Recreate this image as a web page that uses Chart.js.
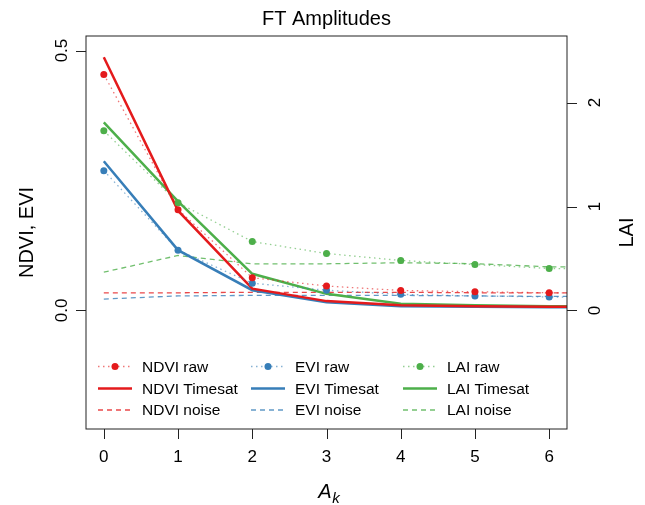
<!DOCTYPE html>
<html>
<head>
<meta charset="utf-8">
<script src="https://cdn.jsdelivr.net/npm/chart.js@4/dist/chart.umd.min.js"></script>
<style>
    html, body { margin: 0; padding: 0; background: #ffffff; }
    #chart { display: block; }
</style>
</head>
<body>
<canvas id="chart" width="645" height="505"></canvas>
<script>
// Harmonic index k (last one falls just outside the plot and gets clipped)
const kValues = [0, 1, 2, 3, 4, 5, 6, 7];

// NDVI / EVI on the left axis
const ndviRaw     = [0.454, 0.194, 0.063, 0.047, 0.0385, 0.036, 0.034, 0.033];
const eviRaw      = [0.269, 0.116, 0.0525, 0.039, 0.031, 0.028, 0.026, 0.025];
const ndviTimesat = [0.487, 0.192, 0.042, 0.018, 0.010, 0.008, 0.007, 0.007];
const eviTimesat  = [0.287, 0.116, 0.039, 0.016, 0.008, 0.007, 0.006, 0.006];
const ndviNoise   = [0.034, 0.034, 0.035, 0.035, 0.035, 0.034, 0.034, 0.034];
const eviNoise    = [0.022, 0.028, 0.029, 0.029, 0.029, 0.028, 0.027, 0.027];

// LAI on the right axis
const laiRaw     = [1.728, 1.036, 0.663, 0.548, 0.481, 0.442, 0.404, 0.400];
const laiTimesat = [1.81, 1.05, 0.353, 0.16, 0.064, 0.05, 0.041, 0.040];
const laiNoise   = [0.368, 0.529, 0.449, 0.449, 0.459, 0.450, 0.420, 0.420];

// Tick positions and labels
const xTicks = [0, 1, 2, 3, 4, 5, 6];
const leftTicks = [0.0, 0.5];
const leftTickLabels = ['0.0', '0.5'];
const rightTicks = [0, 1, 2];
const rightTickLabels = ['0', '1', '2'];

const FONT = '"Liberation Sans", Arial, Helvetica, sans-serif';
const RED = '#E41A1C';
const BLUE = '#377EB8';
const GREEN = '#4DAF4A';

function rgba(hex, a) {
    const n = parseInt(hex.slice(1), 16);
    return `rgba(${(n >> 16) & 255}, ${(n >> 8) & 255}, ${n & 255}, ${a})`;
}

function pts(values) {
    return kValues.map((k, i) => ({ x: k, y: values[i] }));
}

const DOT = [1.5, 3.5];
const DASH = [5, 4];

// Style presets for the three kinds of series
function rawSet(label, values, color, axis) {
    return {
        label, data: pts(values), yAxisID: axis, kind: 'raw', baseColor: color,
        borderColor: rgba(color, 0.6), borderWidth: 1.3, borderDash: DOT,
        pointRadius: 3.5, pointBackgroundColor: color, pointBorderWidth: 0,
        order: 1
    };
}

function timesatSet(label, values, color, axis) {
    return {
        label, data: pts(values), yAxisID: axis, kind: 'timesat', baseColor: color,
        borderColor: color, borderWidth: 2.5, pointRadius: 0, order: 2
    };
}

function noiseSet(label, values, color, axis) {
    return {
        label, data: pts(values), yAxisID: axis, kind: 'noise', baseColor: color,
        borderColor: rgba(color, 0.8), borderWidth: 1.3, borderDash: DASH,
        pointRadius: 0, order: 3
    };
}

const datasets = [
    rawSet('NDVI raw', ndviRaw, RED, 'y'),
    timesatSet('NDVI Timesat', ndviTimesat, RED, 'y'),
    noiseSet('NDVI noise', ndviNoise, RED, 'y'),
    rawSet('EVI raw', eviRaw, BLUE, 'y'),
    timesatSet('EVI Timesat', eviTimesat, BLUE, 'y'),
    noiseSet('EVI noise', eviNoise, BLUE, 'y'),
    rawSet('LAI raw', laiRaw, GREEN, 'y2'),
    timesatSet('LAI Timesat', laiTimesat, GREEN, 'y2'),
    noiseSet('LAI noise', laiNoise, GREEN, 'y2')
];

function rotatedText(ctx, text, x, y) {
    ctx.save();
    ctx.translate(x, y);
    ctx.rotate(-Math.PI / 2);
    ctx.textAlign = 'center';
    ctx.textBaseline = 'alphabetic';
    ctx.fillText(text, 0, 0);
    ctx.restore();
}

// Box, axes, titles and legend in base-graphics style
const framePlugin = {
    id: 'frame',
    afterDraw(chart) {
        const ctx = chart.ctx;
        const area = chart.chartArea;
        const xs = chart.scales.x;
        const ys = chart.scales.y;
        const ys2 = chart.scales.y2;
        const tick = 10;

        ctx.save();
        ctx.strokeStyle = '#222';
        ctx.lineWidth = 1;
        ctx.strokeRect(area.left, area.top, area.right - area.left, area.bottom - area.top);

        ctx.fillStyle = '#000';
        ctx.beginPath();
        xTicks.forEach(v => {
            const px = Math.round(xs.getPixelForValue(v)) + 0.5;
            ctx.moveTo(px, area.bottom);
            ctx.lineTo(px, area.bottom + tick);
        });
        leftTicks.forEach(v => {
            const py = Math.round(ys.getPixelForValue(v)) + 0.5;
            ctx.moveTo(area.left, py);
            ctx.lineTo(area.left - tick, py);
        });
        rightTicks.forEach(v => {
            const py = Math.round(ys2.getPixelForValue(v)) + 0.5;
            ctx.moveTo(area.right, py);
            ctx.lineTo(area.right + tick, py);
        });
        ctx.stroke();

        // Tick labels
        ctx.font = `17px ${FONT}`;
        ctx.textAlign = 'center';
        ctx.textBaseline = 'alphabetic';
        xTicks.forEach(v => ctx.fillText(String(v), xs.getPixelForValue(v), 462));
        leftTicks.forEach((v, i) => rotatedText(ctx, leftTickLabels[i], 67, ys.getPixelForValue(v)));
        rightTicks.forEach((v, i) => rotatedText(ctx, rightTickLabels[i], 600, ys2.getPixelForValue(v)));

        // Axis titles
        ctx.font = `20px ${FONT}`;
        rotatedText(ctx, 'NDVI, EVI', 33, (area.top + area.bottom) / 2);
        rotatedText(ctx, 'LAI', 633, (area.top + area.bottom) / 2);

        ctx.textAlign = 'left';
        ctx.font = `italic 20px ${FONT}`;
        const aw = ctx.measureText('A').width;
        const ax = 329 - (aw + 8) / 2;
        ctx.fillText('A', ax, 498);
        ctx.font = `italic 15px ${FONT}`;
        ctx.fillText('k', ax + aw + 0.5, 503);

        ctx.textAlign = 'center';
        ctx.font = `20px ${FONT}`;
        ctx.fillText('FT Amplitudes', (area.left + area.right) / 2, 25);

        // Legend: three columns, rows raw / Timesat / noise
        const colX = [98, 251, 403];
        const rowY = [366.5, 388.5, 410];
        const lineLen = 34;
        ctx.font = `15.5px ${FONT}`;
        ctx.textAlign = 'left';
        ctx.textBaseline = 'middle';
        chart.data.datasets.forEach((ds, i) => {
            const col = Math.floor(i / 3);
            const row = i % 3;
            const x0 = colX[col];
            const y0 = rowY[row];
            ctx.save();
            ctx.strokeStyle = ds.borderColor;
            ctx.lineWidth = ds.borderWidth;
            ctx.setLineDash(ds.borderDash || []);
            ctx.beginPath();
            ctx.moveTo(x0, y0);
            ctx.lineTo(x0 + lineLen, y0);
            ctx.stroke();
            if (ds.kind === 'raw') {
                ctx.fillStyle = ds.baseColor;
                ctx.beginPath();
                ctx.arc(x0 + lineLen / 2, y0, 3.5, 0, Math.PI * 2);
                ctx.fill();
            }
            ctx.restore();
            ctx.fillStyle = '#000';
            ctx.fillText(ds.label, x0 + 44, y0 + 1);
        });

        ctx.restore();
    }
};

new Chart(document.getElementById('chart'), {
    type: 'line',
    data: { datasets },
    options: {
        responsive: false,
        animation: false,
        devicePixelRatio: 1,
        layout: { padding: { left: 86, right: 78, top: 36, bottom: 76 } },
        elements: { line: { tension: 0 } },
        plugins: { legend: { display: false }, tooltip: { enabled: false } },
        scales: {
            x: { type: 'linear', min: -0.24, max: 6.24, display: false },
            y: { type: 'linear', min: -0.228, max: 0.528, display: false },
            y2: { type: 'linear', min: -1.14, max: 2.64, display: false, position: 'right' }
        }
    },
    plugins: [framePlugin]
});
</script>
</body>
</html>
